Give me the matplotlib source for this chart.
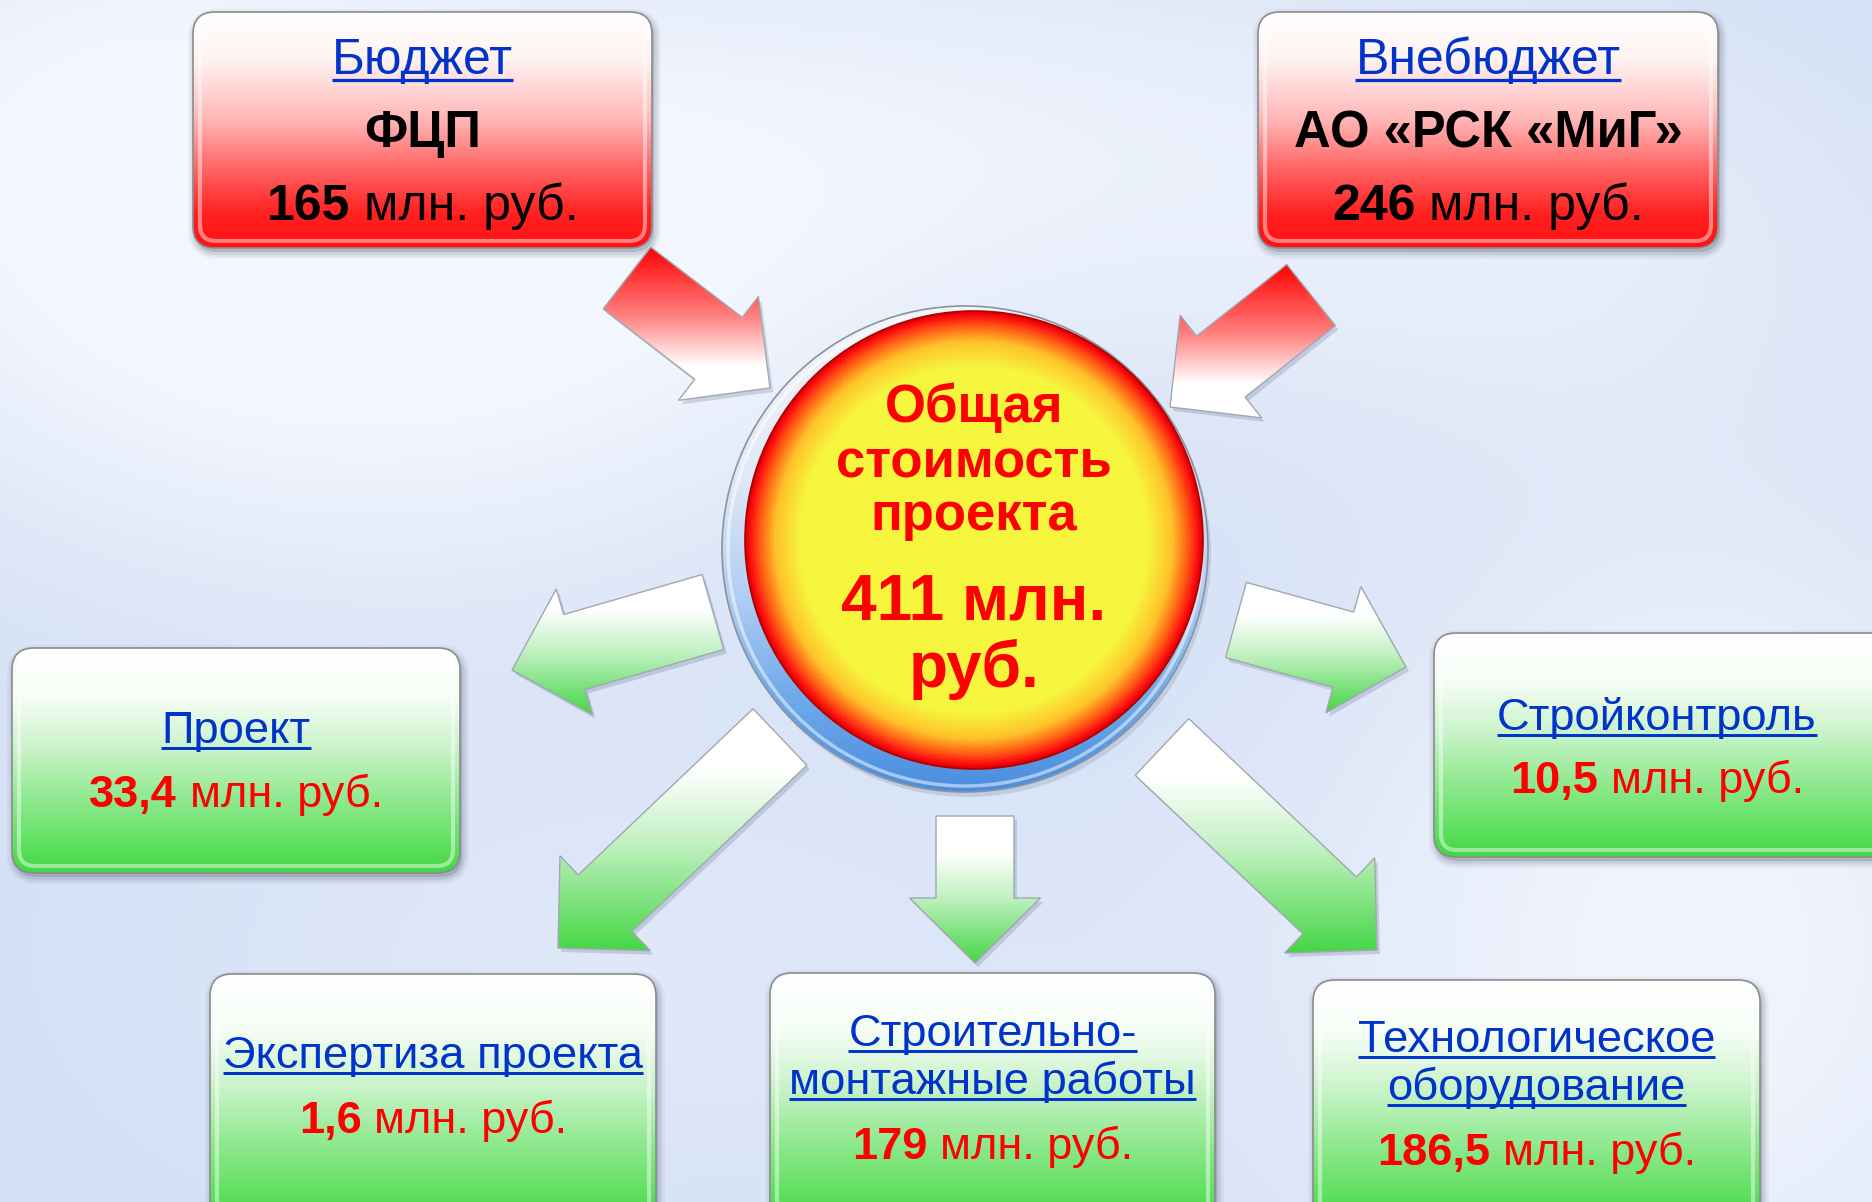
import numpy as np
import matplotlib.pyplot as plt
from matplotlib.patches import FancyBboxPatch, Polygon, Circle
from matplotlib.colors import LinearSegmentedColormap, to_rgb

W, H = 1872, 1202
FONT = ["Liberation Sans", "DejaVu Sans"]
BLUE = "#0033cc"
RED = "#ff0000"

# --- data ---
total_lines = ["Общая", "стоимость", "проекта"]
total_value = "411"
unit = "млн. руб."
source_titles = ["Бюджет", "Внебюджет"]
source_names = ["ФЦП", "АО «РСК «МиГ»"]
source_values = ["165", "246"]
item_titles = [["Проект"], ["Стройконтроль"], ["Экспертиза проекта"],
               ["Строительно-", "монтажные работы"], ["Технологическое", "оборудование"]]
item_values = ["33,4", "10,5", "1,6", "179", "186,5"]

# --- layout (pixels, y down) ---
source_boxes = [(193, 12, 652, 248), (1258, 12, 1718, 248)]
item_boxes = [(12, 648, 460, 873), (1434, 633, 1895, 857), (210, 974, 656, 1225),
              (770, 973, 1215, 1225), (1313, 980, 1760, 1225)]
item_title_y = [[743], [730], [1068], [1046, 1094], [1052, 1100]]
item_value_y = [807, 793, 1133, 1159, 1165]
red_arrows = [((627, 278), (770, 388)), ((1311, 295), (1170, 407))]
green_arrows = [((713, 612), (512, 670)), ((780, 737), (558, 948)), ((975, 816), (975, 963)),
                ((1162, 747), (1377, 950)), ((1236, 620), (1406, 667))]
circle_c, circle_r = (974, 540), 229
ring_c, ring_r = (965, 549), 243

fig = plt.figure(figsize=(W / 100, H / 100), dpi=100)
ax = fig.add_axes([0, 0, 1, 1])
renderer = fig.canvas.get_renderer()


def cmap_of(stops, colors):
    return LinearSegmentedColormap.from_list("g", list(zip(stops, colors)))


def vgrad(patch, extent, stops, colors, z):
    x0, y0, x1, y1 = extent
    g = np.linspace(0, 1, 256).reshape(-1, 1)
    im = ax.imshow(g, cmap=cmap_of(stops, colors), extent=(x0, x1, y1, y0),
                   aspect="auto", zorder=z, interpolation="bicubic")
    patch.set_transform(ax.transData)
    im.set_clip_path(patch)


# background
yy, xx = np.mgrid[0:H:6, 0:W:6]
base = np.array(to_rgb("#d2def5"))
wh = np.zeros_like(xx, dtype=float)
for cx, cy, sx, sy, a in [(380, 330, 380, 200, 0.85), (1700, 950, 300, 350, 0.8),
                          (900, 120, 500, 160, 0.55), (60, 60, 250, 200, 0.5),
                          (1500, 250, 300, 150, 0.3), (650, 980, 400, 200, 0.35)]:
    wh += a * np.exp(-((xx - cx) ** 2 / (2 * sx ** 2) + (yy - cy) ** 2 / (2 * sy ** 2)))
wh = np.clip(wh, 0, 0.9)
bg = base[None, None, :] * (1 - wh[..., None]) + wh[..., None] * np.array([0.97, 0.98, 1.0])
ax.imshow(bg, extent=(0, W, H, 0), aspect="auto", zorder=0, interpolation="bicubic")


def box(b, kind):
    x0, y0, x1, y1 = b
    for k, a in [(10, 0.06), (7, 0.08), (4, 0.12)]:
        ax.add_patch(FancyBboxPatch((x0 + 2, y0 + 4), x1 - x0, y1 - y0,
                                    boxstyle="round,pad=0,rounding_size=22", fc="#556070",
                                    ec="#556070", lw=k, alpha=a, zorder=4))
    p = FancyBboxPatch((x0, y0), x1 - x0, y1 - y0, boxstyle="round,pad=0,rounding_size=22")
    if kind == "red":
        vgrad(p, b, [0, 0.2, 0.45, 0.65, 0.85, 1],
              ["#ffffff", "#fff2f2", "#ffb8b8", "#ff6a6a", "#ff2222", "#ff1010"], 5)
    else:
        vgrad(p, b, [0, 0.22, 0.45, 0.65, 0.88, 1],
              ["#ffffff", "#f6fdf6", "#c9f3c9", "#95ea95", "#5ee05e", "#44d444"], 5)
    ax.add_patch(FancyBboxPatch((x0 + 7, y0 + 7), x1 - x0 - 14, y1 - y0 - 14,
                                boxstyle="round,pad=0,rounding_size=16", fc="none",
                                ec="white", lw=3, alpha=0.45, zorder=6))
    ax.add_patch(FancyBboxPatch((x0, y0), x1 - x0, y1 - y0,
                                boxstyle="round,pad=0,rounding_size=22", fc="none",
                                ec="#8c8c8c", lw=1.2, zorder=6))


def arrow_pts(tail, tip, shaft=78, head=131, head_len=65):
    tail, tip = np.array(tail, float), np.array(tip, float)
    u = (tip - tail) / np.hypot(*(tip - tail))
    n = np.array([-u[1], u[0]])
    bs = tip - u * head_len
    return np.array([tail + n * shaft / 2, bs + n * shaft / 2, bs + n * head / 2, tip,
                     bs - n * head / 2, bs - n * shaft / 2, tail - n * shaft / 2])


def arrow(tail, tip, kind):
    pts = arrow_pts(tail, tip)
    ax.add_patch(Polygon(pts + [3, 4], closed=True, fc="#506080", ec="none", alpha=0.22, zorder=3))
    p = Polygon(pts, closed=True)
    ext = (pts[:, 0].min(), pts[:, 1].min(), pts[:, 0].max(), pts[:, 1].max())
    if kind == "red":
        vgrad(p, ext, [0, 0.45, 0.78, 1], ["#ff0000", "#ff8080", "#ffffff", "#ffffff"], 4)
    else:
        vgrad(p, ext, [0, 0.25, 0.55, 1], ["#ffffff", "#ffffff", "#c2f1c2", "#45d645"], 4)
    ax.add_patch(Polygon(pts, closed=True, fc="none", ec="#a0a8b0", lw=1.0, zorder=4.5))


def width(s, size, weight):
    t = ax.text(0, 0, s, fontsize=size, fontweight=weight, family=FONT)
    w = t.get_window_extent(renderer).width
    t.remove()
    return w


def runs(x, y, parts, size):
    sp = width("a a", size, "normal") - width("aa", size, "normal")
    ws = [width(s, size, wt) for s, wt, c in parts]
    left = x - (sum(ws) + sp * (len(parts) - 1)) / 2
    for (s, wt, c), w in zip(parts, ws):
        ax.text(left, y, s, fontsize=size, fontweight=wt, color=c, family=FONT,
                ha="left", va="baseline", zorder=10)
        left += w + sp


def link(x, y, s, size):
    ax.text(x, y, s, fontsize=size, color=BLUE, family=FONT, ha="center", va="baseline", zorder=10)
    w = width(s, size, "normal")
    ax.plot([x - w / 2, x + w / 2], [y + size * 0.16] * 2, color=BLUE, lw=size * 0.065,
            solid_capstyle="butt", zorder=10)


# central disc
ring = Circle(ring_c, ring_r)
ax.add_patch(Circle((ring_c[0] + 3, ring_c[1] + 5), ring_r, fc="#607090", alpha=0.2, zorder=1.5))
vgrad(ring, (ring_c[0] - ring_r, ring_c[1] - ring_r, ring_c[0] + ring_r, ring_c[1] + ring_r),
      [0, 0.35, 0.6, 0.8, 1], ["#f4f5f8", "#e0e9f6", "#b0cef3", "#70aaea", "#4a8ee0"], 2)
ax.add_patch(Circle(ring_c, ring_r, fc="none", ec="#8a93a0", lw=1.2, zorder=2.1))
ax.add_patch(Circle(ring_c, ring_r - 6, fc="none", ec="white", lw=2.5, alpha=0.5, zorder=2.1))

n = 400
gy, gx = np.mgrid[-1:1:n * 1j, -1:1:n * 1j]
rr = np.hypot(gx, gy)
ccm = cmap_of([0, 0.76, 0.87, 0.94, 0.98, 1],
              ["#f6f63e", "#f6f63e", "#ffc22a", "#ff5a14", "#ff1212", "#e00000"])
cx, cy = circle_c
im = ax.imshow(np.clip(rr, 0, 1), cmap=ccm, vmin=0, vmax=1, zorder=3, interpolation="bilinear",
               extent=(cx - circle_r, cx + circle_r, cy + circle_r, cy - circle_r), aspect="auto")
clip = Circle(circle_c, circle_r, transform=ax.transData)
im.set_clip_path(clip)
ax.add_patch(Circle(circle_c, circle_r, fc="none", ec="#b00000", lw=1.2, zorder=3.1))

for tail, tip in red_arrows:
    arrow(tail, tip, "red")
for tail, tip in green_arrows:
    arrow(tail, tip, "green")

# circle text
for s, y in zip(total_lines, [422, 477, 530]):
    ax.text(cx, y, s, fontsize=38, fontweight="bold", color=RED, family=FONT,
            ha="center", va="baseline", zorder=10)
ax.text(cx, 620, f"{total_value} млн.", fontsize=46, fontweight="bold", color=RED, family=FONT,
        ha="center", va="baseline", zorder=10)
ax.text(cx, 687, "руб.", fontsize=46, fontweight="bold", color=RED, family=FONT,
        ha="center", va="baseline", zorder=10)

# source boxes
for b, t, nm, v in zip(source_boxes, source_titles, source_names, source_values):
    box(b, "red")
    x = (b[0] + b[2]) / 2
    link(x, 74, t, 36)
    ax.text(x, 147, nm, fontsize=36.5, fontweight="bold", color="black", family=FONT,
            ha="center", va="baseline", zorder=10)
    runs(x, 220, [(v, "bold", "black"), (unit, "normal", "black")], 36)

# item boxes
for b, ts, tys, v, vy in zip(item_boxes, item_titles, item_title_y, item_values, item_value_y):
    box(b, "green")
    x = (b[0] + b[2]) / 2
    if b[2] > W:
        x = 1657
    for t, ty in zip(ts, tys):
        link(x, ty, t, 32.7)
    runs(x, vy, [(v, "bold", RED), (unit, "normal", RED)], 32.5)

ax.set_xlim(0, W)
ax.set_ylim(H, 0)
ax.axis("off")
fig.savefig("out.png", dpi=100)
